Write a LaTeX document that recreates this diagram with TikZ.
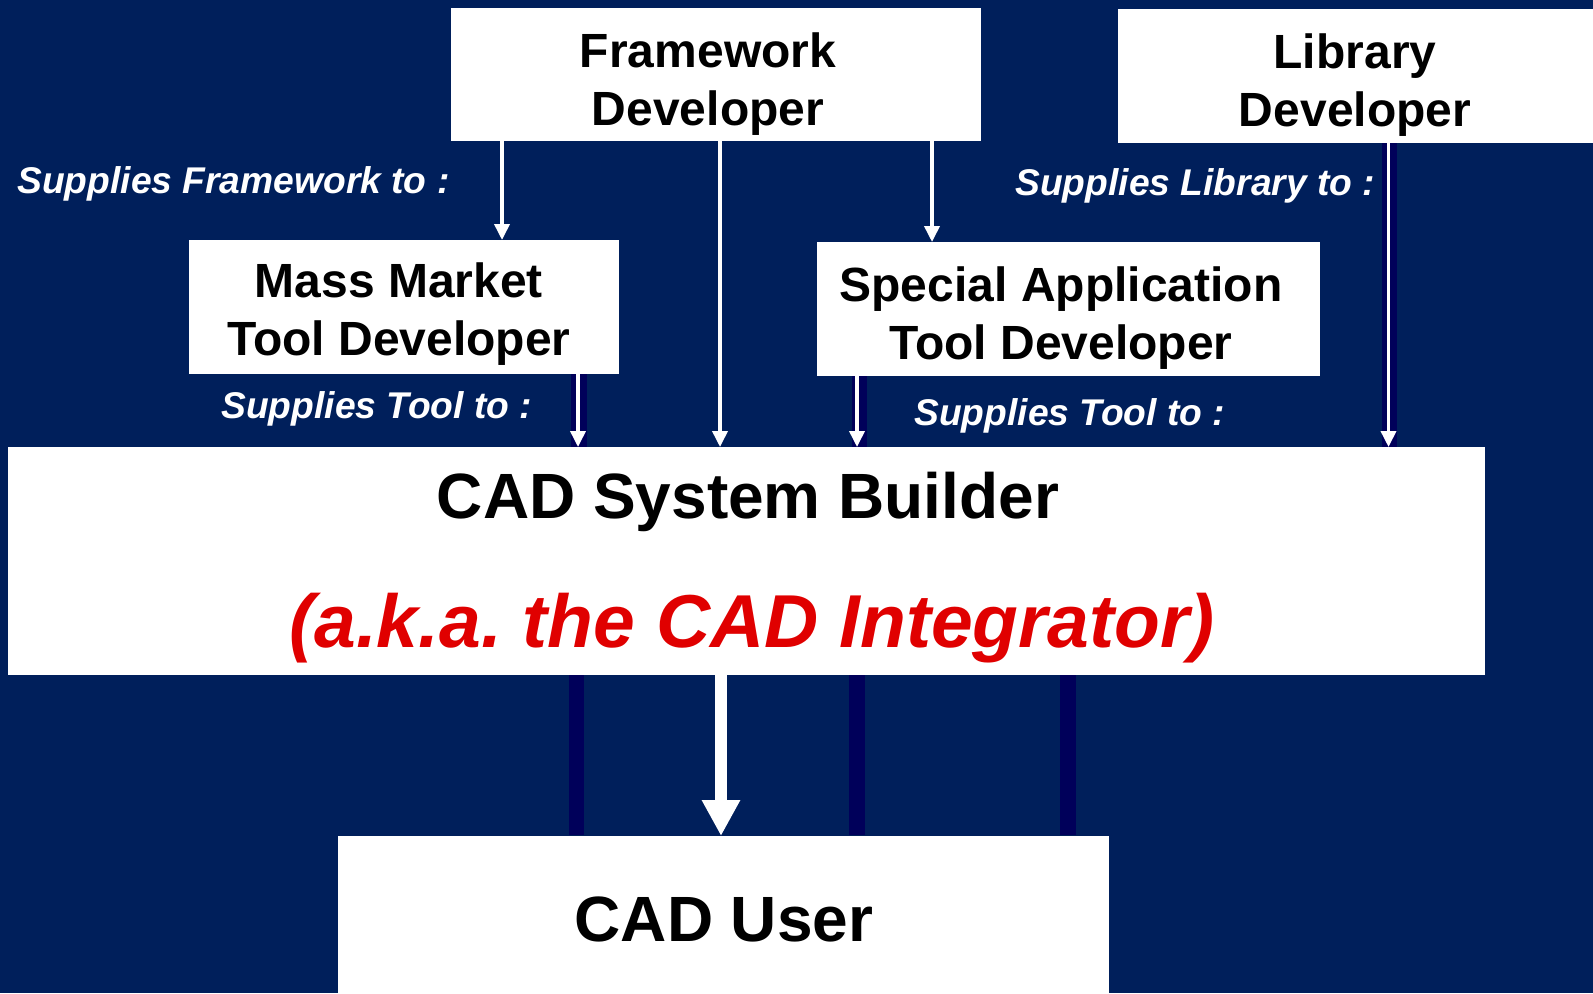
\documentclass[tikz,border=0pt]{standalone}
\usepackage{fontspec}
\setmainfont{Liberation Sans}
\usetikzlibrary{arrows.meta}
\definecolor{navy}{RGB}{0,31,91}
\definecolor{bandblue}{RGB}{0,0,90}
\definecolor{akared}{RGB}{224,0,0}
\frenchspacing
\begin{document}
\begin{tikzpicture}[x=0.5pt,y=-0.5pt,
  box/.style={fill=white,draw=none,inner sep=0pt,outer sep=0pt},
  boxtext/.style={inner sep=0pt,align=center,anchor=north,
    font=\bfseries\fontsize{24}{29}\selectfont},
  flowlabel/.style={inner sep=0pt,anchor=base west,text=white,
    font=\bfseries\itshape\fontsize{18.6}{22}\selectfont},
  feed/.style={draw=white,line width=1.8pt,-{Triangle[width=7.5pt,length=8pt]}},
  deliver/.style={draw=white,fill=white,line width=6.2pt,-{Triangle[width=18pt,length=18pt]}}]
\useasboundingbox (0,0) rectangle (1593,993);
\fill[navy] (0,0) rectangle (1593,993);

% boxes
\node[box,minimum width=265pt,minimum height=66.5pt] (fw) at (716,74.5) {};
\node[box,minimum width=237.5pt,minimum height=67pt] (lib) at (1355.5,76) {};
\node[box,minimum width=215pt,minimum height=67pt] (mm) at (404,307) {};
\node[box,minimum width=251.5pt,minimum height=67pt] (sp) at (1068.5,309) {};
\node[box,minimum width=738.5pt,minimum height=114pt] (cad) at (746.5,561) {};
\node[box,minimum width=385.5pt,minimum height=78.5pt] (user) at (723.5,914.5) {};

% dark bands behind the vertical feeds
\fill[bandblue] (571,374) rectangle (587,447);
\fill[bandblue] (852,376) rectangle (867,447);
\fill[bandblue] (1382,143) rectangle (1397,447);
\fill[bandblue] (569,675) rectangle (584,835);
\fill[bandblue] (849,675) rectangle (865,835);
\fill[bandblue] (1060,675) rectangle (1076,835);

% box texts
\node[boxtext] (fwt) at (708,32) {Framework\\Developer};
\node[boxtext] (libt) at (1355,33) {Library\\Developer};
\node[boxtext] (mmt) at (399,262) {Mass Market\\Tool Developer};
\node[boxtext] (spt) at (1061,266) {Special Application\\Tool Developer};
\node[inner sep=0pt,anchor=base,font=\bfseries\fontsize{32}{38}\selectfont] (cadt) at (748,518) {CAD System Builder};
\node[inner sep=0pt,anchor=base,text=akared,font=\bfseries\itshape\fontsize{37.5}{44}\selectfont] (akat) at (752,647) {(a.k.a. the CAD Integrator)};
\node[inner sep=0pt,anchor=base,font=\bfseries\fontsize{32}{38}\selectfont] (usert) at (724,941) {CAD User};

% flow labels
\node[flowlabel] (lfw) at (17,193) {Supplies Framework to :};
\node[flowlabel] (llib) at (1015,195) {Supplies Library to :};
\node[flowlabel] (lmm) at (221,418) {Supplies Tool to :};
\node[flowlabel] (lsp) at (914,425) {Supplies Tool to :};

% connector columns
\coordinate (c1) at (502,0);
\coordinate (c2) at (720,0);
\coordinate (c3) at (932,0);
\coordinate (c4) at (578,0);
\coordinate (c5) at (857,0);
\coordinate (c6) at (1388.5,0);
\coordinate (c7) at (721,0);

\draw[feed] (c1 |- fw.south) -- (c1 |- mm.north);
\draw[feed] (c2 |- fw.south) -- (c2 |- cad.north);
\draw[feed] (c3 |- fw.south) -- (c3 |- sp.north);
\draw[feed] (c4 |- mm.south) -- (c4 |- cad.north);
\draw[feed] (c5 |- sp.south) -- (c5 |- cad.north);
\draw[feed] (c6 |- lib.south) -- (c6 |- cad.north);
\draw[deliver] (c7 |- cad.south) -- (c7 |- user.north);
\end{tikzpicture}
\end{document}
